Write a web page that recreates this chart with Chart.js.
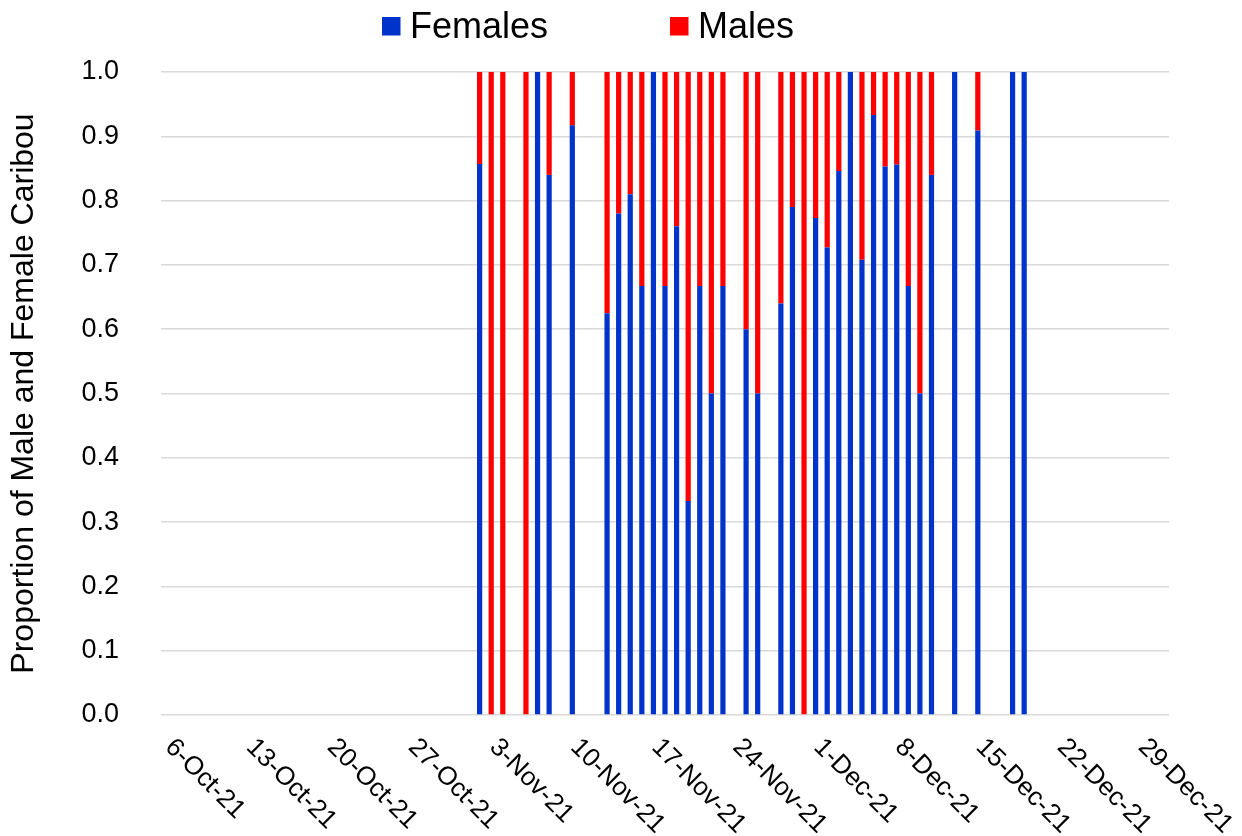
<!DOCTYPE html>
<html>
<head>
<meta charset="utf-8">
<script src="https://cdn.jsdelivr.net/npm/chart.js@4.4.1/dist/chart.umd.min.js"></script>
<style>
  html, body { margin: 0; padding: 0; background: #fff; }
  #wrap { width: 1242px; height: 836px; }
</style>
</head>
<body>
<div id="wrap"><canvas id="caribouChart" width="1242" height="836"></canvas></div>
<script>
// daily axis, 6-Oct-21 .. 31-Dec-21
const days = [
  "6-Oct-21","7-Oct-21","8-Oct-21","9-Oct-21","10-Oct-21","11-Oct-21","12-Oct-21","13-Oct-21","14-Oct-21","15-Oct-21",
  "16-Oct-21","17-Oct-21","18-Oct-21","19-Oct-21","20-Oct-21","21-Oct-21","22-Oct-21","23-Oct-21","24-Oct-21","25-Oct-21",
  "26-Oct-21","27-Oct-21","28-Oct-21","29-Oct-21","30-Oct-21","31-Oct-21",
  "1-Nov-21","2-Nov-21","3-Nov-21","4-Nov-21","5-Nov-21","6-Nov-21","7-Nov-21","8-Nov-21","9-Nov-21","10-Nov-21",
  "11-Nov-21","12-Nov-21","13-Nov-21","14-Nov-21","15-Nov-21","16-Nov-21","17-Nov-21","18-Nov-21","19-Nov-21","20-Nov-21",
  "21-Nov-21","22-Nov-21","23-Nov-21","24-Nov-21","25-Nov-21","26-Nov-21","27-Nov-21","28-Nov-21","29-Nov-21","30-Nov-21",
  "1-Dec-21","2-Dec-21","3-Dec-21","4-Dec-21","5-Dec-21","6-Dec-21","7-Dec-21","8-Dec-21","9-Dec-21","10-Dec-21",
  "11-Dec-21","12-Dec-21","13-Dec-21","14-Dec-21","15-Dec-21","16-Dec-21","17-Dec-21","18-Dec-21","19-Dec-21","20-Dec-21",
  "21-Dec-21","22-Dec-21","23-Dec-21","24-Dec-21","25-Dec-21","26-Dec-21","27-Dec-21","28-Dec-21","29-Dec-21","30-Dec-21",
  "31-Dec-21"
];

// days with observations
const obsDates = [
  "2-Nov-21","3-Nov-21","4-Nov-21","6-Nov-21","7-Nov-21","8-Nov-21","10-Nov-21",
  "13-Nov-21","14-Nov-21","15-Nov-21","16-Nov-21","17-Nov-21","18-Nov-21","19-Nov-21","20-Nov-21","21-Nov-21","22-Nov-21","23-Nov-21",
  "25-Nov-21","26-Nov-21",
  "28-Nov-21","29-Nov-21","30-Nov-21","1-Dec-21","2-Dec-21","3-Dec-21","4-Dec-21","5-Dec-21","6-Dec-21","7-Dec-21","8-Dec-21","9-Dec-21","10-Dec-21","11-Dec-21",
  "13-Dec-21","15-Dec-21","18-Dec-21","19-Dec-21"
];
const females = [
  0.857, 0, 0, 0, 1, 0.84, 0.917,
  0.625, 0.78, 0.81, 0.667, 1, 0.667, 0.76, 0.333, 0.667, 0.5, 0.667,
  0.6, 0.5,
  0.64, 0.79, 0, 0.773, 0.727, 0.846, 1, 0.708, 0.933, 0.853, 0.856, 0.667, 0.5, 0.84,
  1, 0.909, 1, 1
];
const males = [
  0.143, 1, 1, 1, 0, 0.16, 0.083,
  0.375, 0.22, 0.19, 0.333, 0, 0.333, 0.24, 0.667, 0.333, 0.5, 0.333,
  0.4, 0.5,
  0.36, 0.21, 1, 0.227, 0.273, 0.154, 0, 0.292, 0.067, 0.147, 0.144, 0.333, 0.5, 0.16,
  0, 0.091, 0, 0
];

const tickLabels = ["6-Oct-21","13-Oct-21","20-Oct-21","27-Oct-21","3-Nov-21","10-Nov-21","17-Nov-21",
  "24-Nov-21","1-Dec-21","8-Dec-21","15-Dec-21","22-Dec-21","29-Dec-21"];

const FONT = '"Liberation Sans", Arial, sans-serif';
Chart.defaults.font.family = FONT;
Chart.defaults.color = "#000";

// put the observed values onto the daily axis (null = no bar)
function onAxis(vals) {
    return days.map(d => {
        const i = obsDates.indexOf(d);
        return i < 0 ? null : vals[i];
    });
}

// legend at the top, drawn by hand so the spacing matches
const topLegend = {
    id: "topLegend",
    afterDraw(chart) {
        const ctx = chart.ctx;
        const spots = [382, 670];
        ctx.save();
        ctx.font = "36px " + FONT;
        ctx.textBaseline = "alphabetic";
        chart.data.datasets.forEach((ds, i) => {
            const x = spots[i];
            ctx.fillStyle = ds.backgroundColor;
            ctx.fillRect(x, 17, 18.5, 18.5);
            ctx.fillStyle = "#000";
            ctx.fillText(ds.label, x + 28, 37.5);
        });
        ctx.restore();
    }
};

// x labels slanted downwards to the right, starting at the tick
const slantedDates = {
    id: "slantedDates",
    afterDraw(chart) {
        const xs = chart.scales.x;
        const ctx = chart.ctx;
        ctx.save();
        ctx.font = "26px " + FONT;
        ctx.fillStyle = "#000";
        ctx.textAlign = "left";
        ctx.textBaseline = "top";
        tickLabels.forEach(lbl => {
            const idx = days.indexOf(lbl);
            const x = xs.getPixelForValue(idx);
            ctx.save();
            ctx.translate(x + 11.5, xs.top + 19);
            ctx.rotate(Math.PI / 4);
            ctx.fillText(lbl, 0, 0);
            ctx.restore();
        });
        ctx.restore();
    }
};

const canvas = document.getElementById("caribouChart");
new Chart(canvas.getContext("2d"), {
    type: "bar",
    data: {
        labels: days,
        datasets: [
            {
                label: "Females",
                data: onAxis(females),
                backgroundColor: "#0033CC",
                borderWidth: 0,
                barPercentage: 0.45,
                categoryPercentage: 1.0
            },
            {
                label: "Males",
                data: onAxis(males),
                backgroundColor: "#FF0000",
                borderWidth: 0,
                barPercentage: 0.45,
                categoryPercentage: 1.0
            }
        ]
    },
    options: {
        responsive: false,
        animation: false,
        layout: { padding: { top: 72, right: 73, left: 0, bottom: 0 } },
        plugins: {
            legend: { display: false },
            tooltip: { enabled: false }
        },
        scales: {
            x: {
                stacked: true,
                grid: { display: false },
                border: { display: false },
                ticks: { display: false },
                afterFit(s) { s.height = 121; }
            },
            y: {
                stacked: true,
                min: 0,
                max: 1,
                border: { display: false },
                grid: { color: "#d9d9d9", lineWidth: 1.5, drawTicks: false },
                ticks: {
                    stepSize: 0.1,
                    padding: 42,
                    font: { size: 27 },
                    callback: v => v.toFixed(1)
                },
                title: {
                    display: true,
                    text: "Proportion of Male and Female Caribou",
                    font: { size: 32 },
                    padding: { top: 5, bottom: 0 }
                },
                afterFit(s) { s.width = 161; }
            }
        }
    },
    plugins: [topLegend, slantedDates]
});
</script>
</body>
</html>
